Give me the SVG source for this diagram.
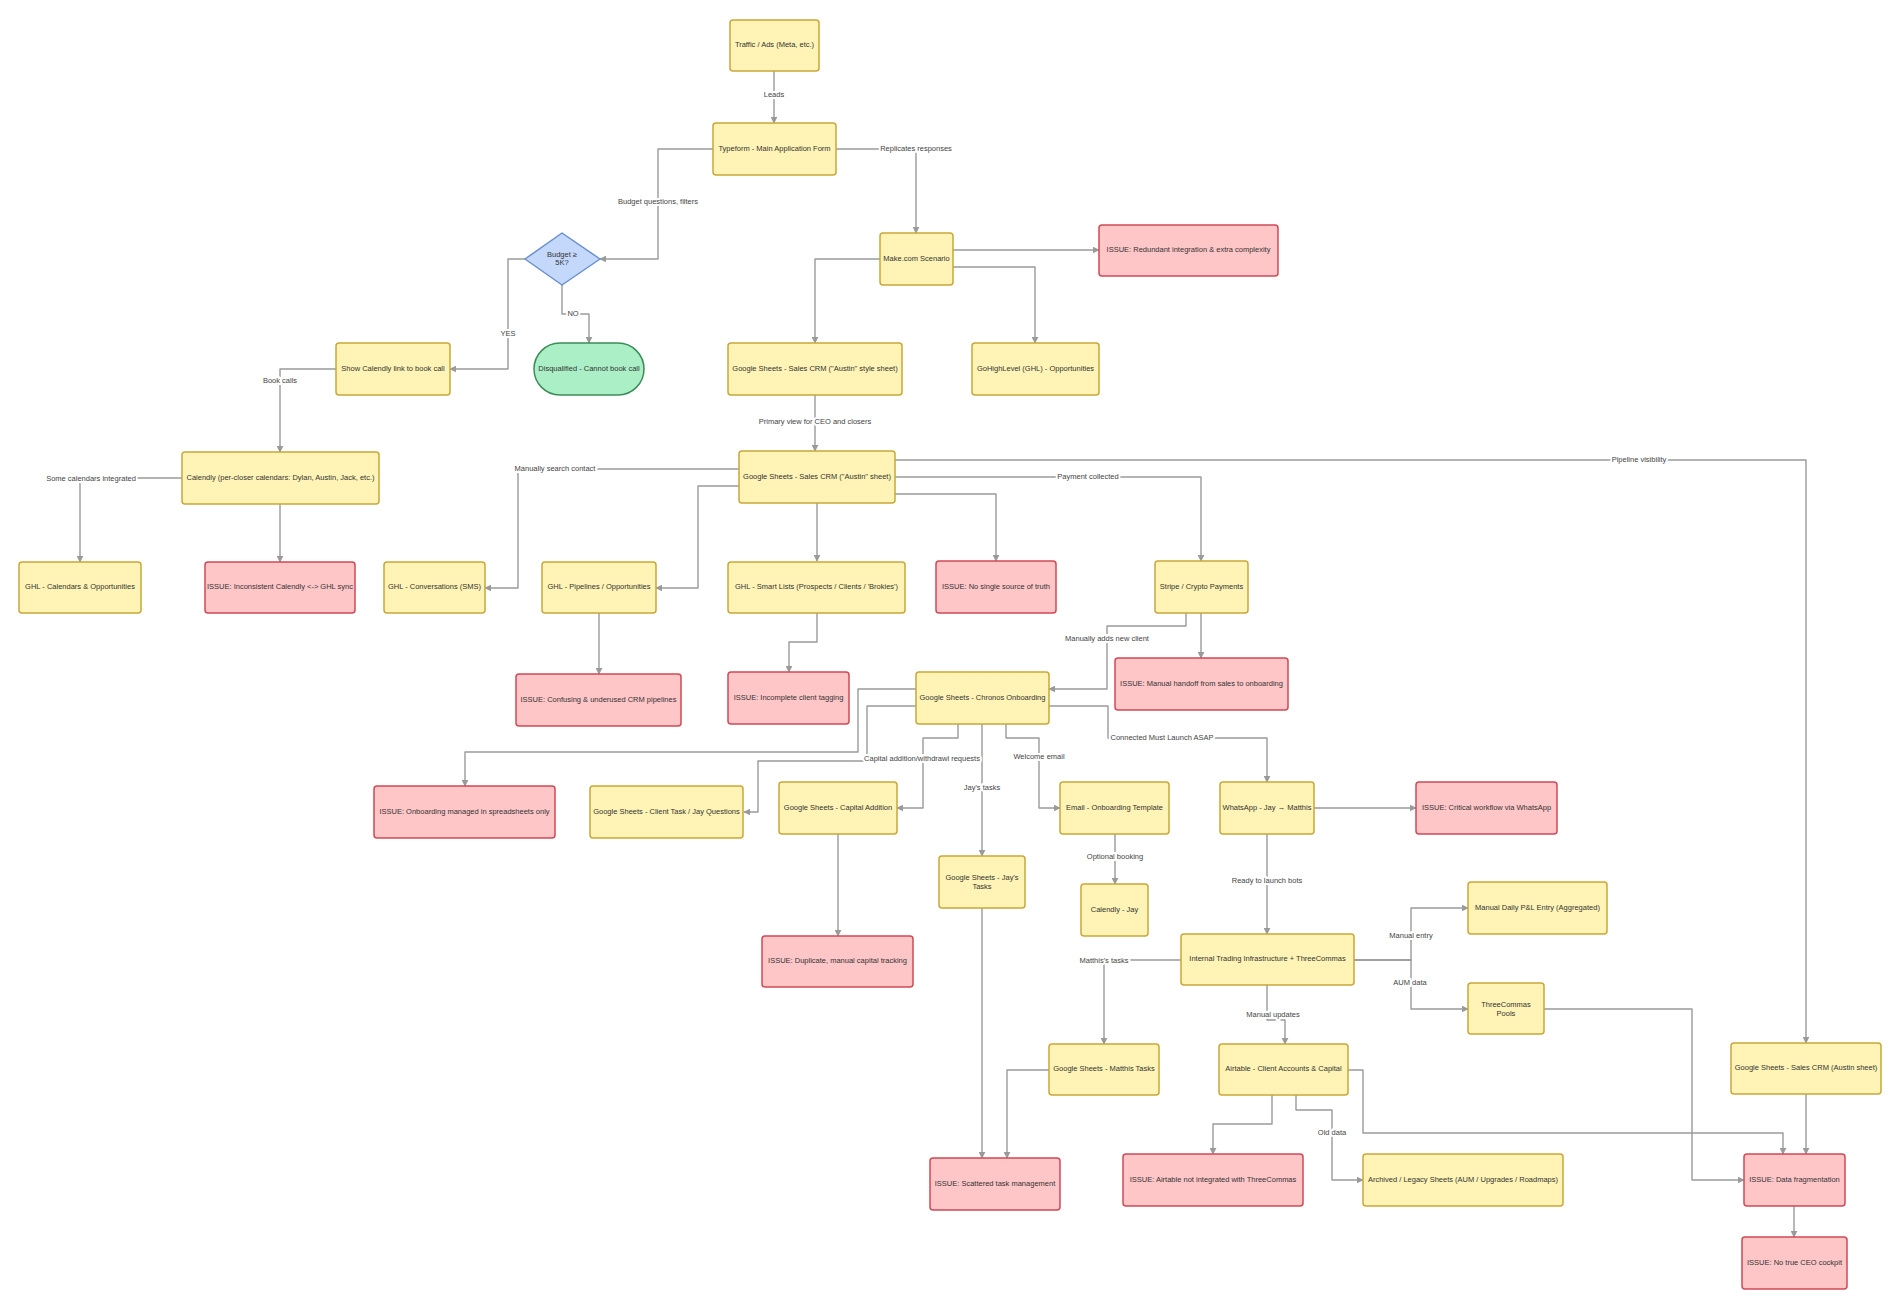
<svg xmlns="http://www.w3.org/2000/svg" width="1900" height="1306" viewBox="0 0 1900 1306">
<style>
text{font-family:"Liberation Sans",Arial,sans-serif;font-size:7.5px;fill:#333;text-anchor:middle;dominant-baseline:middle}
.y{fill:#fff3b5;stroke:#c9a83a;stroke-width:1.5}
.r{fill:#ffc6c8;stroke:#d04a55;stroke-width:1.5}
.g{fill:#abefc6;stroke:#3c8c58;stroke-width:1.5}
.b{fill:#c4d8fb;stroke:#6a8fd0;stroke-width:1.5}
.e path{fill:none;stroke:#9a9a9a;stroke-width:1.4;stroke-linejoin:round;marker-end:url(#a)}
.l{paint-order:stroke;stroke:#fff;stroke-width:4;fill:#444}
</style>
<defs><marker id="a" viewBox="0 0 10 10" refX="9" refY="5" markerWidth="7" markerHeight="7" orient="auto" markerUnits="userSpaceOnUse"><path d="M0,0L10,5L0,10z" fill="#9a9a9a"/></marker></defs>
<rect width="1900" height="1306" fill="#fff"/>
<g class="e" id="connectors">
<path d="M774,71V123"/>
<path d="M713,149H658V259H600"/>
<path d="M836,149H916V233"/>
<path d="M562,285V314H589V343"/>
<path d="M525,259H508V369H450"/>
<path d="M336,369H280V452"/>
<path d="M182,478H80V562"/>
<path d="M280,504V562"/>
<path d="M953,250H1099"/>
<path d="M880,259H815V343"/>
<path d="M953,267H1035V343"/>
<path d="M815,395V451"/>
<path d="M739,469H518V588H485"/>
<path d="M739,486H698V588H656"/>
<path d="M817,503V561"/>
<path d="M895,460H1806V1043"/>
<path d="M895,477H1201V561"/>
<path d="M895,494H996V561"/>
<path d="M599,613V674"/>
<path d="M817,613V642H789V672"/>
<path d="M1186,613V626H1107V689H1049"/>
<path d="M1201,613V658"/>
<path d="M916,689H858V752H465V786"/>
<path d="M916,706H867V761H758V812H744"/>
<path d="M958,724V738H923V808H897"/>
<path d="M838,834V936"/>
<path d="M982,724V856"/>
<path d="M982,908V1158"/>
<path d="M1006,724V738H1039V808H1060"/>
<path d="M1115,834V884"/>
<path d="M1049,706H1108V738H1267V782"/>
<path d="M1314,808H1416"/>
<path d="M1267,834V934"/>
<path d="M1181,960H1104V1044"/>
<path d="M1049,1070H1007V1158"/>
<path d="M1267,985V1020H1285V1044"/>
<path d="M1354,960H1411V908H1468"/>
<path d="M1354,960H1411V1009H1468"/>
<path d="M1272,1095V1124H1213V1154"/>
<path d="M1296,1095V1110H1332V1180H1363"/>
<path d="M1348,1070H1363V1133H1783V1154"/>
<path d="M1544,1009H1692V1180H1744"/>
<path d="M1806,1094V1154"/>
<path d="M1794,1206V1237"/>
</g>
<g id="labels">
<text class="l" x="774" y="95">Leads</text>
<text class="l" x="658" y="202">Budget questions, filters</text>
<text class="l" x="916" y="149">Replicates responses</text>
<text class="l" x="573" y="314">NO</text>
<text class="l" x="508" y="334">YES</text>
<text class="l" x="280" y="381">Book calls</text>
<text class="l" x="91" y="479">Some calendars integrated</text>
<text class="l" x="815" y="422">Primary view for CEO and closers</text>
<text class="l" x="555" y="469">Manually search contact</text>
<text class="l" x="1639" y="460">Pipeline visibility</text>
<text class="l" x="1088" y="477">Payment collected</text>
<text class="l" x="1107" y="639">Manually adds new client</text>
<text class="l" x="922" y="759">Capital addition/withdrawl requests</text>
<text class="l" x="982" y="788">Jay's tasks</text>
<text class="l" x="1039" y="757">Welcome email</text>
<text class="l" x="1115" y="857">Optional booking</text>
<text class="l" x="1162" y="738">Connected  Must Launch ASAP</text>
<text class="l" x="1267" y="881">Ready to launch bots</text>
<text class="l" x="1104" y="961">Matthis's tasks</text>
<text class="l" x="1273" y="1015">Manual updates</text>
<text class="l" x="1411" y="936">Manual entry</text>
<text class="l" x="1410" y="983">AUM data</text>
<text class="l" x="1332" y="1133">Old data</text>
</g>
<g id="n1"><rect class="y" x="730" y="20" width="89" height="51" rx="3"/><text x="774.5" y="45.5">Traffic / Ads (Meta, etc.)</text></g>
<g id="n2"><rect class="y" x="713" y="123" width="123" height="52" rx="3"/><text x="774.5" y="149">Typeform - Main Application Form</text></g>
<g id="n3"><path class="b" d="M562,233L600,259L562,285L525,259Z" stroke-linejoin="round"/><text x="562" y="255">Budget ≥</text><text x="562" y="263">5K?</text></g>
<g id="n4"><rect class="g" x="534" y="343" width="110" height="52" rx="26"/><text x="589" y="369">Disqualified - Cannot book call</text></g>
<g id="n5"><rect class="y" x="336" y="343" width="114" height="52" rx="3"/><text x="393" y="369">Show Calendly link to book call</text></g>
<g id="n6"><rect class="y" x="182" y="452" width="197" height="52" rx="3"/><text x="280.5" y="478">Calendly (per-closer calendars: Dylan, Austin, Jack, etc.)</text></g>
<g id="n7"><rect class="y" x="19" y="562" width="122" height="51" rx="3"/><text x="80" y="587.5">GHL - Calendars &amp; Opportunities</text></g>
<g id="n8"><rect class="r" x="205" y="562" width="150" height="51" rx="3"/><text x="280" y="587.5">ISSUE: Inconsistent Calendly &lt;-&gt; GHL sync</text></g>
<g id="n9"><rect class="y" x="384" y="562" width="101" height="51" rx="3"/><text x="434.5" y="587.5">GHL - Conversations (SMS)</text></g>
<g id="n10"><rect class="y" x="542" y="562" width="114" height="51" rx="3"/><text x="599" y="587.5">GHL - Pipelines / Opportunities</text></g>
<g id="n11"><rect class="y" x="728" y="562" width="177" height="51" rx="3"/><text x="816.5" y="587.5">GHL - Smart Lists (Prospects / Clients / 'Brokies')</text></g>
<g id="n12"><rect class="y" x="880" y="233" width="73" height="52" rx="3"/><text x="916.5" y="259">Make.com Scenario</text></g>
<g id="n13"><rect class="r" x="1099" y="225" width="179" height="51" rx="3"/><text x="1188.5" y="250.5">ISSUE: Redundant integration &amp; extra complexity</text></g>
<g id="n14"><rect class="y" x="728" y="343" width="174" height="52" rx="3"/><text x="815" y="369">Google Sheets - Sales CRM ("Austin" style sheet)</text></g>
<g id="n15"><rect class="y" x="972" y="343" width="127" height="52" rx="3"/><text x="1035.5" y="369">GoHighLevel (GHL) - Opportunities</text></g>
<g id="n16"><rect class="y" x="739" y="451" width="156" height="52" rx="3"/><text x="817" y="477">Google Sheets - Sales CRM ("Austin" sheet)</text></g>
<g id="n17"><rect class="r" x="936" y="561" width="120" height="52" rx="3"/><text x="996" y="587">ISSUE: No single source of truth</text></g>
<g id="n18"><rect class="y" x="1155" y="561" width="93" height="52" rx="3"/><text x="1201.5" y="587">Stripe / Crypto Payments</text></g>
<g id="n19"><rect class="r" x="516" y="674" width="165" height="52" rx="3"/><text x="598.5" y="700">ISSUE: Confusing &amp; underused CRM pipelines</text></g>
<g id="n20"><rect class="r" x="728" y="672" width="121" height="52" rx="3"/><text x="788.5" y="698">ISSUE: Incomplete client tagging</text></g>
<g id="n21"><rect class="y" x="916" y="672" width="133" height="52" rx="3"/><text x="982.5" y="698">Google Sheets - Chronos Onboarding</text></g>
<g id="n22"><rect class="r" x="1115" y="658" width="173" height="52" rx="3"/><text x="1201.5" y="684">ISSUE: Manual handoff from sales to onboarding</text></g>
<g id="n23"><rect class="r" x="374" y="786" width="181" height="52" rx="3"/><text x="464.5" y="812">ISSUE: Onboarding managed in spreadsheets only</text></g>
<g id="n24"><rect class="y" x="590" y="786" width="153" height="52" rx="3"/><text x="666.5" y="812">Google Sheets - Client Task / Jay Questions</text></g>
<g id="n25"><rect class="y" x="779" y="782" width="118" height="52" rx="3"/><text x="838" y="808">Google Sheets - Capital Addition</text></g>
<g id="n26"><rect class="y" x="1060" y="782" width="109" height="52" rx="3"/><text x="1114.5" y="808">Email - Onboarding Template</text></g>
<g id="n27"><rect class="y" x="1220" y="782" width="94" height="52" rx="3"/><text x="1267" y="808">WhatsApp - Jay → Matthis</text></g>
<g id="n28"><rect class="r" x="1416" y="782" width="141" height="52" rx="3"/><text x="1486.5" y="808">ISSUE: Critical workflow via WhatsApp</text></g>
<g id="n29"><rect class="y" x="939" y="856" width="86" height="52" rx="3"/><text x="982" y="878">Google Sheets - Jay's</text><text x="982" y="887">Tasks</text></g>
<g id="n30"><rect class="y" x="1081" y="884" width="67" height="52" rx="3"/><text x="1114.5" y="910">Calendly - Jay</text></g>
<g id="n31"><rect class="r" x="762" y="936" width="151" height="51" rx="3"/><text x="837.5" y="961.5">ISSUE: Duplicate, manual capital tracking</text></g>
<g id="n32"><rect class="y" x="1181" y="934" width="173" height="51" rx="3"/><text x="1267.5" y="959.5">Internal Trading Infrastructure + ThreeCommas</text></g>
<g id="n33"><rect class="y" x="1468" y="882" width="139" height="52" rx="3"/><text x="1537.5" y="908">Manual Daily P&amp;L Entry (Aggregated)</text></g>
<g id="n34"><rect class="y" x="1468" y="983" width="76" height="51" rx="3"/><text x="1506" y="1005">ThreeCommas</text><text x="1506" y="1014">Pools</text></g>
<g id="n35"><rect class="y" x="1049" y="1044" width="110" height="51" rx="3"/><text x="1104" y="1069.5">Google Sheets - Matthis Tasks</text></g>
<g id="n36"><rect class="y" x="1219" y="1044" width="129" height="51" rx="3"/><text x="1283.5" y="1069.5">Airtable - Client Accounts &amp; Capital</text></g>
<g id="n37"><rect class="y" x="1731" y="1043" width="150" height="51" rx="3"/><text x="1806" y="1068.5">Google Sheets - Sales CRM (Austin sheet)</text></g>
<g id="n38"><rect class="r" x="930" y="1158" width="130" height="52" rx="3"/><text x="995" y="1184">ISSUE: Scattered task management</text></g>
<g id="n39"><rect class="r" x="1123" y="1154" width="180" height="52" rx="3"/><text x="1213" y="1180">ISSUE: Airtable not integrated with ThreeCommas</text></g>
<g id="n40"><rect class="y" x="1363" y="1154" width="200" height="52" rx="3"/><text x="1463" y="1180">Archived / Legacy Sheets (AUM / Upgrades / Roadmaps)</text></g>
<g id="n41"><rect class="r" x="1744" y="1154" width="101" height="52" rx="3"/><text x="1794.5" y="1180">ISSUE: Data fragmentation</text></g>
<g id="n42"><rect class="r" x="1742" y="1237" width="105" height="52" rx="3"/><text x="1794.5" y="1263">ISSUE: No true CEO cockpit</text></g>
</svg>
